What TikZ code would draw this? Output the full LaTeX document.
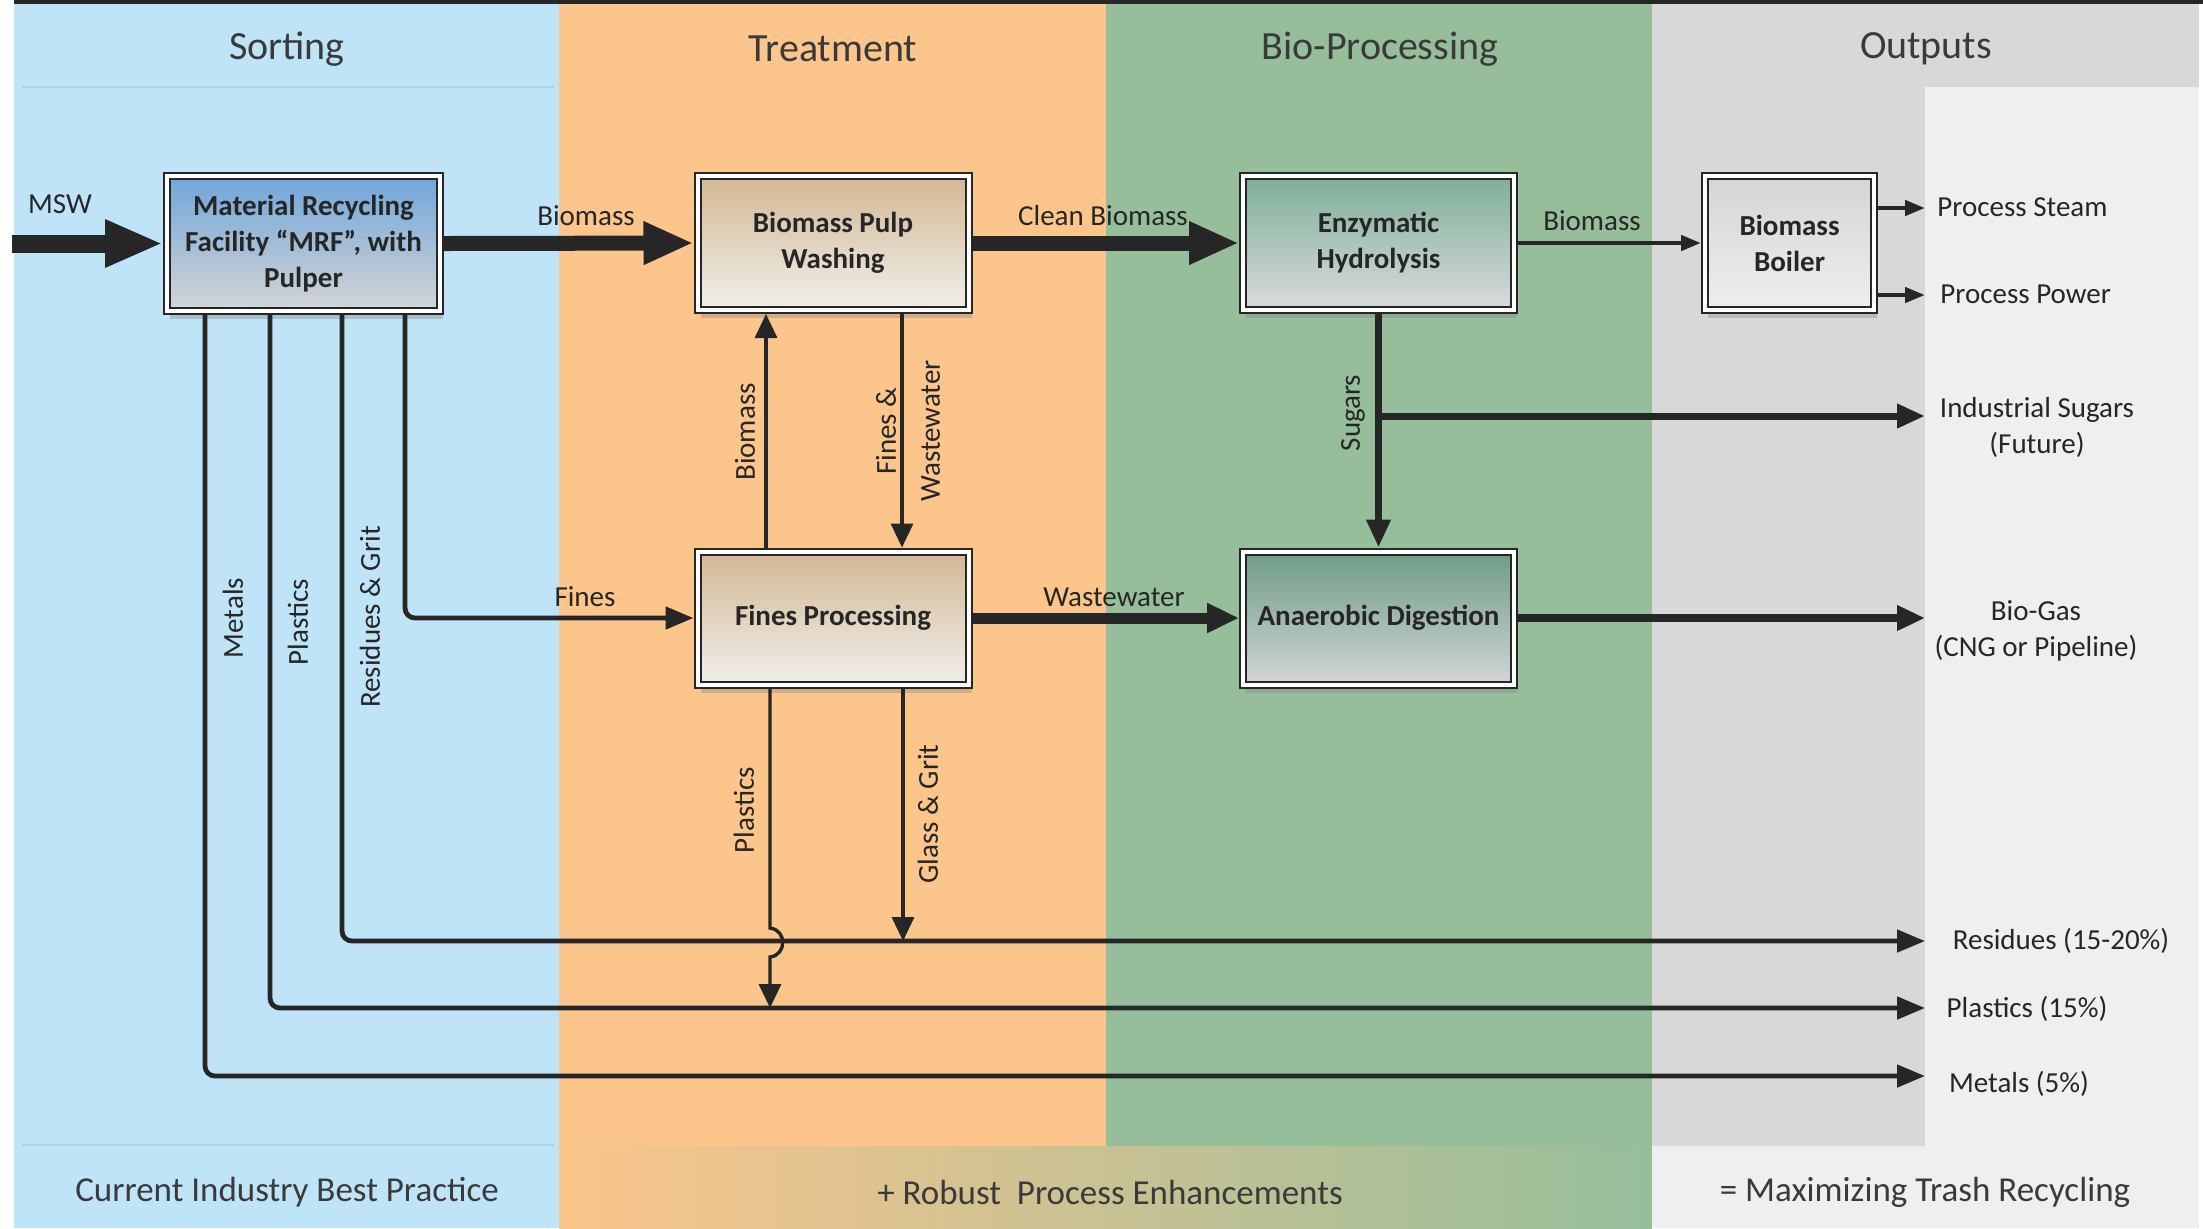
\documentclass[tikz,border=0pt]{standalone}
\usepackage{fontspec}
\setmainfont{Carlito}
\usetikzlibrary{arrows.meta,shadows}
\definecolor{cSort}{HTML}{C0E4F7}
\definecolor{cSortLine}{HTML}{A9D2EA}
\definecolor{cTreat}{HTML}{FBC58B}
\definecolor{cBio}{HTML}{96BE9B}
\definecolor{cOut}{HTML}{D8D8D8}
\definecolor{cOutLight}{HTML}{EFEFEF}
\definecolor{cInk}{HTML}{262626}
\definecolor{cHead}{HTML}{3A3A3A}
\definecolor{mrfTop}{HTML}{6FA6DA}
\definecolor{mrfBot}{HTML}{D5D5D5}
\definecolor{tanTop}{HTML}{D2B893}
\definecolor{tanBot}{HTML}{F1EFEC}
\definecolor{ehTop}{HTML}{7DAE98}
\definecolor{ehBot}{HTML}{DADCDC}
\definecolor{adTop}{HTML}{6E9C86}
\definecolor{adBot}{HTML}{D3D5D5}
\definecolor{blrTop}{HTML}{D5D5D5}
\definecolor{blrBot}{HTML}{EEEEEE}
\begin{document}
\begin{tikzpicture}[x=0.5pt,y=-0.5pt,
  proc/.style={draw=cInk, line width=1pt, double=white, double distance=2pt,
    outer sep=2pt, inner sep=0pt, align=center,
    font=\fontsize{14.5}{18}\selectfont\bfseries, text=cInk,
    minimum width=135.5pt, minimum height=67pt,
    drop shadow={shadow xshift=1.5pt, shadow yshift=-4pt, opacity=0.35}},
  lbl/.style={font=\fontsize{14.5}{18}\selectfont, text=cInk, inner sep=0pt, align=center},
  hdr/.style={font=\fontsize{20}{24}\selectfont, text=cHead, inner sep=0pt},
  ftr/.style={font=\fontsize{17.5}{21}\selectfont, text=cHead, inner sep=0pt},
  mswflow/.style={draw=cInk, line width=9pt, -{Triangle[length=29pt,width=22pt]}},
  bigflow/.style={draw=cInk, line width=7.5pt, -{Triangle[length=25pt,width=20pt]}},
  midflow/.style={draw=cInk, line width=5.5pt, -{Triangle[length=16pt,width=14pt]}},
  gasflow/.style={draw=cInk, line width=4pt, -{Triangle[length=14pt,width=12pt]}},
  sugflow/.style={draw=cInk, line width=3.5pt, -{Triangle[length=14pt,width=11.5pt]}},
  outflow/.style={draw=cInk, line width=2.4pt, -{Triangle[length=14pt,width=11pt]}},
  thinflow/.style={draw=cInk, line width=1.7pt, -{Triangle[length=12pt,width=11pt]}},
  smallflow/.style={draw=cInk, line width=2.2pt, -{Triangle[length=10pt,width=7.5pt]}}
]
\useasboundingbox (0,0) rectangle (2203,1228);
% backgrounds
\fill[cSort] (14,4) rectangle (559,1228);
\fill[cTreat] (559,4) rectangle (1106,1146);
\fill[cBio] (1106,4) rectangle (1652,1146);
\shade[left color=cTreat, right color=cBio] (559,1146) rectangle (1652,1228);
\fill[cOut] (1652,4) rectangle (2199,87);
\fill[cOut] (1652,87) rectangle (1925,1146);
\fill[cOutLight] (1925,87) rectangle (2199,1146);
\fill[cOutLight] (1652,1146) rectangle (2199,1228);
\draw[cSortLine, line width=1pt] (22,87) -- (554,87);
\draw[cSortLine, line width=1pt] (22,1145) -- (554,1145);
\fill[cInk] (14,0) rectangle (2203,4);
% headers and footers
\node[hdr] (hSort) at (287,49) {Sorting};
\node[hdr] (hTreat) at (833,49) {Treatment};
\node[hdr] (hBio) at (1380,49) {Bio-Processing};
\node[hdr] (hOut) at (1926,49) {Outputs};
\node[ftr] (fSort) at (287,1192) {Current Industry Best Practice};
\node[ftr] (fMid) at (1110,1192) {+ Robust\ \ Process Enhancements};
\node[ftr] (fOut) at (1925,1192) {= Maximizing Trash Recycling};
% process boxes
\node[proc, top color=mrfTop, bottom color=mrfBot, minimum width=136.5pt, minimum height=67.5pt] (mrf) at (303.5,243.5) {Material Recycling\\Facility “MRF”, with\\Pulper};
\node[proc, top color=tanTop, bottom color=tanBot] (bpw) at (833,243) {Biomass Pulp\\Washing};
\node[proc, top color=ehTop, bottom color=ehBot] (eh) at (1378.5,243) {Enzymatic\\Hydrolysis};
\node[proc, top color=blrTop, bottom color=blrBot, minimum width=84.5pt] (blr) at (1789.5,243) {Biomass\\Boiler};
\node[proc, top color=tanTop, bottom color=tanBot, minimum height=66.5pt] (fp) at (833,618) {Fines Processing};
\node[proc, top color=adTop, bottom color=adBot, minimum height=66.5pt] (ad) at (1378.5,618) {Anaerobic Digestion};
% coordinates
\coordinate (mswIn) at (12,243.5);
\coordinate (oSteam) at (1925,208);
\coordinate (oPower) at (1925,295);
\coordinate (oSugar) at (1925,416);
\coordinate (oGas) at (1925,618);
\coordinate (oRes) at (1925,941);
\coordinate (oPla) at (1925,1008);
\coordinate (oMet) at (1925,1076);
\coordinate (sugJ) at (1379,416);
\coordinate (resJ) at (903,941);
\coordinate (plaJ) at (770,1008);
% connectors
\draw[mswflow] (mswIn) -- (mrf.west);
\draw[bigflow] (mrf.east) -- (bpw.west);
\draw[bigflow] (bpw.east) -- (eh.west);
\draw[smallflow] (eh.east) -- (blr.west);
\draw[smallflow] (blr.east |- oSteam) -- (oSteam);
\draw[smallflow] (blr.east |- oPower) -- (oPower);
\draw[sugflow] (eh.south) -- (ad.north);
\draw[sugflow] (sugJ) -- (oSugar);
\draw[thinflow] (fp.north -| 766,0) -- (bpw.south -| 766,0);
\draw[thinflow] (bpw.south -| 902,0) -- (fp.north -| 902,0);
\draw[midflow] (fp.east) -- (ad.west);
\draw[gasflow] (ad.east) -- (oGas);
\draw[outflow, rounded corners=5pt] (mrf.south -| 405,0) |- (fp.west);
\draw[outflow, rounded corners=5pt] (mrf.south -| 342,0) |- (oRes);
\draw[outflow, rounded corners=5pt] (mrf.south -| 270,0) |- (oPla);
\draw[outflow, rounded corners=5pt] (mrf.south -| 205,0) |- (oMet);
\draw[thinflow] (fp.south -| 903,0) -- (resJ);
\draw[thinflow] (fp.south -| 770,0) -- (770,928) .. controls (787,930) and (787,955) .. (770,957) -- (plaJ);
% labels
\node[lbl] (lMSW) at (60,204) {MSW};
\node[lbl] (lBio1) at (586,216) {Biomass};
\node[lbl] (lClean) at (1103,216) {Clean Biomass};
\node[lbl] (lBio2) at (1592,221) {Biomass};
\node[lbl] (lFines) at (585,597) {Fines};
\node[lbl] (lWaste) at (1114,597) {Wastewater};
\node[lbl, rotate=90] (lSug) at (1353,413) {Sugars};
\node[lbl, rotate=90] (lBioUp) at (745,432) {Biomass};
\node[lbl, rotate=90, font=\fontsize{14.5}{22}\selectfont] (lFW) at (908,431) {Fines \&\\Wastewater};
\node[lbl, rotate=90] (lMetV) at (233,618) {Metals};
\node[lbl, rotate=90] (lPlaV) at (298,622) {Plastics};
\node[lbl, rotate=90] (lResV) at (370,617) {Residues \& Grit};
\node[lbl, rotate=90] (lPlaF) at (744,810) {Plastics};
\node[lbl, rotate=90] (lGla) at (928,814) {Glass \& Grit};
\node[lbl, anchor=west] (tSteam) at (1937,207) {Process Steam};
\node[lbl, anchor=west] (tPower) at (1940,294) {Process Power};
\node[lbl] (tSugar) at (2037,427) {Industrial Sugars\\(Future)};
\node[lbl] (tGas) at (2036,631) {Bio-Gas\\(CNG or Pipeline)};
\node[lbl] (tRes) at (2061,941) {Residues (15-20\%)};
\node[lbl] (tPla) at (2027,1009) {Plastics (15\%)};
\node[lbl] (tMet) at (2019,1084) {Metals (5\%)};
\end{tikzpicture}
\end{document}
